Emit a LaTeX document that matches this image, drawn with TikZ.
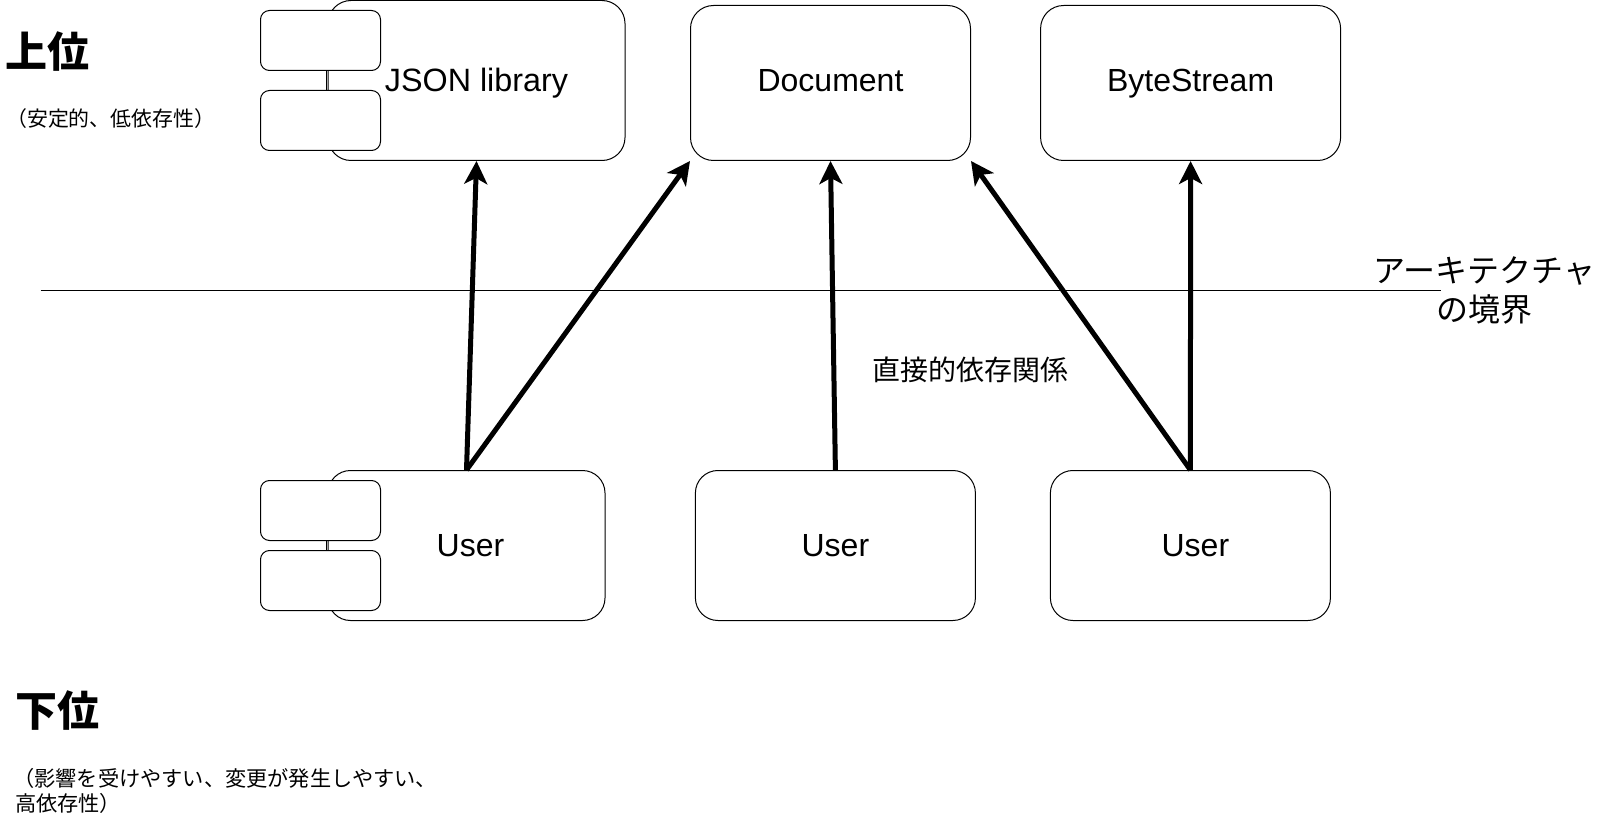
\documentclass[tikz,border=0pt]{standalone}
\usepackage{fontspec}
\setmainfont{Liberation Sans}
\newfontfamily\cjk{Noto Sans CJK JP}
\usetikzlibrary{arrows.meta}
\tikzset{
  x=1pt,y=-1pt,
  bigbox/.style={draw=black,fill=white,line width=1pt,rounded corners=#1,inner sep=0pt,text height=23pt,text depth=0pt,font=\fontsize{32}{38}\selectfont},
  bigbox/.default=23pt,
  userbox/.style={bigbox=22.5pt,minimum height=150pt,text height=21.5pt},
  boxtext/.style={inner sep=0pt,text height=23pt,text depth=0pt,font=\fontsize{32}{38}\selectfont},
  modbox/.style={draw=black,fill=white,line width=1pt,rounded corners=9pt,inner sep=0pt,minimum width=120pt,minimum height=60pt},
  thinline/.style={line width=1pt,black},
  dep/.style={line width=5pt,black,-{Stealth[length=23pt,width=23pt,inset=6pt]}},
  head/.style={inner sep=0pt,font=\cjk\bfseries\fontsize{42}{50}\selectfont},
  small/.style={inner sep=0pt,anchor=west,font=\cjk\fontsize{21.2}{25}\selectfont},
  big/.style={inner sep=0pt,align=center,font=\cjk\fontsize{32}{39}\selectfont},
}
\begin{document}
\begin{tikzpicture}
\useasboundingbox (0,0) rectangle (1606,821);
\fill[white] (0,0) rectangle (1606,821);

% boundary
\coordinate (bl) at (40.5,290.5);
\coordinate (br) at (1440.5,290.5);
\draw[thinline] (bl) -- (br);

% upper boxes
\node[bigbox=23pt,minimum width=297pt,minimum height=160pt] (json) at (476.5,80.5) {\fontsize{32.3}{38}\selectfont JSON library\hspace{13pt}};
\node[modbox] (jm1) at (320.5,40.5) {};
\node[modbox] (jm2) at (320.5,120.5) {};
\coordinate (jc1) at (326,70.5);
\coordinate (jc2) at (326,90.5);
\draw[thinline] (jc1) -- (jc2);
\node[bigbox=23pt,minimum width=280pt,minimum height=155pt] (doc) at (830.5,83) {};
\node[boxtext] (doct) at (doc.center |- json.center) {Document};
\node[bigbox=23pt,minimum width=300pt,minimum height=155pt] (byte) at (1190.6,83) {};
\node[boxtext] (bytet) at (byte.center |- json.center) {ByteStream};

% lower boxes
\node[userbox,minimum width=277pt] (u1) at (466.5,545.5) {\hspace{8pt}User};
\node[modbox] (um1) at (320.5,510.5) {};
\node[modbox] (um2) at (320.5,580.5) {};
\coordinate (uc1) at (326,540.5);
\coordinate (uc2) at (326,550.5);
\draw[thinline] (uc1) -- (uc2);
\node[userbox,minimum width=280pt] (u2) at (835.4,545.5) {User};
\node[userbox,minimum width=280pt] (u3) at (1190.4,545.5) {\hspace{10pt}User};

% dependencies
\draw[dep] (u1.north) -- (json.south);
\draw[dep] (u1.north) -- (doc.south west);
\draw[dep] (u2.north) -- (doc.south);
\draw[dep] (u3.north) -- (doc.south east);
\draw[dep] (u3.north) -- (byte.south);

% labels
\node[head] (upper) at (47.5,51.5) {上位};
\node[small,font=\cjk\fontsize{20.9}{25}\selectfont] (uppersub) at (6,118.5) {（安定的、低依存性）};
\node[head] (lower) at (57,711) {下位};
\node[small] (lowersub1) at (13,778) {（影響を受けやすい、変更が発生しやすい、};
\node[small] (lowersub2) at (15,803) {高依存性）};
\node[big] (bound) at (1484.5,290) {アーキテクチャ\\の境界};
\node[inner sep=0pt,font=\cjk\fontsize{28}{34}\selectfont] (direct) at (970.5,370) {直接的依存関係};
\end{tikzpicture}
\end{document}
